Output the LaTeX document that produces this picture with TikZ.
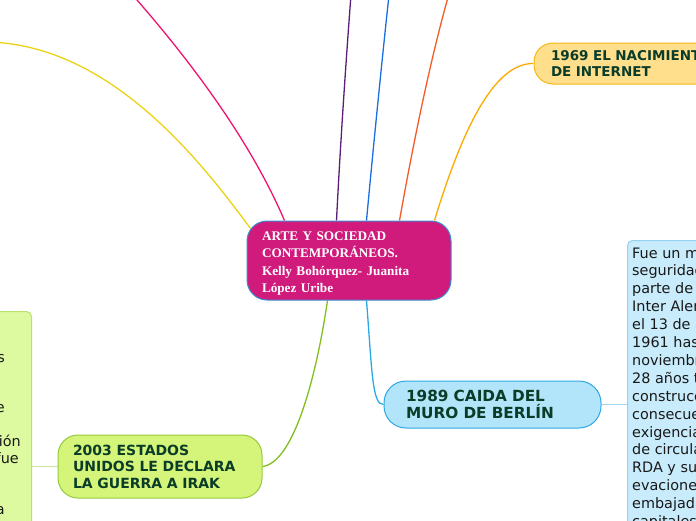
\documentclass[tikz,border=0pt]{standalone}
\usepackage{fontspec}
\newfontfamily\vfont{DejaVu Sans}
\newfontfamily\tfont{Liberation Serif}
\usetikzlibrary{calc,backgrounds}
\definecolor{cfill}{RGB}{208,26,124}
\definecolor{cborder}{RGB}{60,140,210}
\definecolor{dtext}{RGB}{10,60,40}
\definecolor{yfill}{RGB}{255,222,140}
\definecolor{yborder}{RGB}{245,185,20}
\definecolor{bfill}{RGB}{178,229,250}
\definecolor{bborder}{RGB}{45,168,230}
\definecolor{gfill}{RGB}{212,245,122}
\definecolor{gborder}{RGB}{150,200,60}
\definecolor{bnote}{RGB}{200,236,252}
\definecolor{bnoteb}{RGB}{150,210,240}
\definecolor{gnote}{RGB}{222,250,160}
\definecolor{gnoteb}{RGB}{185,225,110}
\definecolor{lyellow}{RGB}{235,210,20}
\definecolor{lpink}{RGB}{240,20,110}
\definecolor{lpurple}{RGB}{90,30,120}
\definecolor{lblue}{RGB}{25,110,225}
\definecolor{lorange}{RGB}{245,90,40}
\definecolor{lgold}{RGB}{250,170,0}
\definecolor{lsky}{RGB}{40,170,230}
\definecolor{lgreen}{RGB}{130,190,30}
\definecolor{thinblue}{RGB}{160,216,240}
\definecolor{thingreen}{RGB}{200,228,160}
\begin{document}
\begin{tikzpicture}[x=1pt,y=-1pt,
  topic/.style={draw, line width=1pt, align=left, inner ysep=0pt, text=dtext},
  branch/.style={line width=1.3pt},
  thin/.style={line width=1pt},
  notetext/.style={anchor=base west, inner sep=0pt, font=\vfont\fontsize{14.4}{16}\selectfont, text=black!90}
]
\useasboundingbox (0,0) rectangle (696,520);
\clip (0,0) rectangle (696,520);

% central node
\node[draw=cborder, fill=cfill, line width=1pt, rounded corners=20pt,
      minimum width=204pt, minimum height=79pt, inner sep=0pt]
  (c) at (349,260.5) {};
\node[text width=174pt, inner sep=0pt, align=left, text=white,
      font=\tfont\bfseries\fontsize{13.2}{17.3}\selectfont]
  (ct) at ($(c.center)+(0,3)$) {ARTE Y SOCIEDAD\\CONTEMPORÁNEOS.\\Kelly Bohórquez- Juanita\\López Uribe};

% 1969
\node[topic, draw=yborder, fill=yfill, rounded corners=19pt, text width=166pt, inner xsep=17pt,
      minimum height=41pt, font=\vfont\bfseries\fontsize{13.5}{16}\selectfont]
  (n69) at (634,63.5) {1969 EL NACIMIENTO\\DE INTERNET};

% 1989
\node[topic, draw=bborder, fill=bfill, rounded corners=22pt, text width=173pt, inner xsep=22pt,
      minimum height=47pt, font=\vfont\bfseries\fontsize{15.3}{17}\selectfont]
  (n89) at (492.5,404.5) {1989 CAIDA DEL\\MURO DE BERLÍN};

% 2003
\node[topic, draw=gborder, fill=gfill, rounded corners=20pt, text width=174pt, inner xsep=15pt,
      minimum height=63pt, font=\vfont\bfseries\fontsize{14}{16.5}\selectfont]
  (n03) at (160,466.5) {2003 ESTADOS\\UNIDOS LE DECLARA\\LA GUERRA A IRAK};

% notes
\node[draw=bnoteb, fill=bnote, line width=1pt, rounded corners=5pt, minimum width=100pt,
      minimum height=320pt, anchor=north west, inner sep=0pt] (nb) at (627,240) {};
\node[draw=gnoteb, fill=gnote, line width=1pt, rounded corners=5pt, minimum width=80pt,
      minimum height=260pt, anchor=north east, inner sep=0pt] (ng) at (32,311) {};

\foreach \t [count=\i] in {Fue un muro, seguridad, parte de la, Inter Alemana, el 13 de agosto,
  1961 hasta, noviembre, 28 años tras, construcción, consecuencia, exigencias, de circulación,
  RDA y sus, evaciones, embajadas, capitales}
  \node[notetext] (b\i) at (632,258+17.9*\i-17.9) {\t};

\node[notetext, anchor=base east] (g1) at (5,362) {países};
\node[notetext, anchor=base east] (g2) at (5,412) {de};
\node[notetext, anchor=base east] (g3) at (21,446) {invasión};
\node[notetext, anchor=base east] (g4) at (19,463) {fue};
\node[notetext, anchor=base east] (g5) at (5,514) {la};

% free ends
\coordinate (e1) at (-12,42);
\coordinate (e2) at (130,-8);
\coordinate (e3) at (351,-5);
\coordinate (e4) at (389,-5);
\coordinate (e5) at (449,-6);

\begin{scope}[on background layer]
\draw[branch, lyellow] ($(c.north west)+(4,8)$) .. controls (200,160) and (110,45) .. (e1);
\draw[branch, lpink] ($(c.north west)+(38,0)$) .. controls (250,140) and (190,60) .. (e2);
\draw[branch, lpurple] ($(c.north west)+(90,0)$) .. controls (340,150) and (346,60) .. (e3);
\draw[branch, lblue] ($(c.north west)+(120,0)$) .. controls (373,150) and (382,60) .. (e4);
\draw[branch, lorange] ($(c.north west)+(153,0)$) .. controls (412,150) and (430,60) .. (e5);
\draw[branch, lgold] ($(c.north west)+(188,0)$) .. controls (468,110) and (500,63) .. (n69.west);
\draw[branch, lsky] ($(c.south west)+(120,0)$) .. controls (372,370) and (372,405) .. (n89.west);
\draw[branch, lgreen] ($(c.south west)+(81,0)$) .. controls (315,385) and (292,463) .. (n03.east);
\draw[thin, thinblue] (n89.east) -- (n89.east -| nb.west);
\draw[thin, thingreen] (n03.west) -- (n03.west -| ng.east);
\end{scope}
\end{tikzpicture}
\end{document}
